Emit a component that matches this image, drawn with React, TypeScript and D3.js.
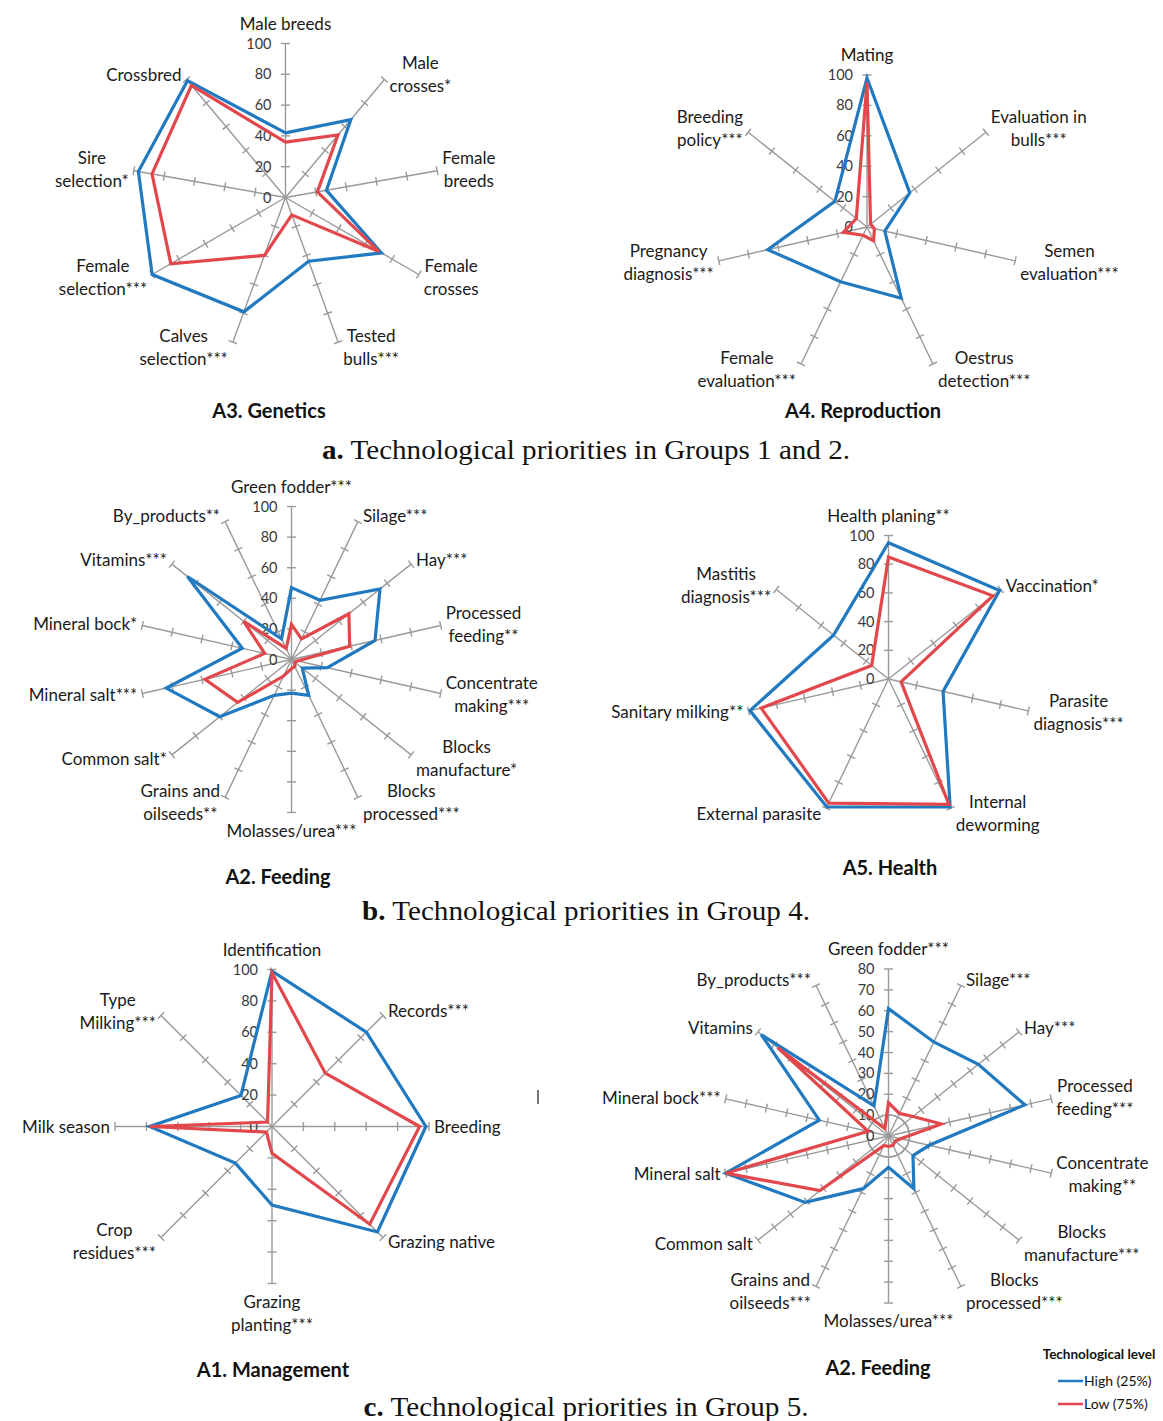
import React from "react";
import * as d3 from "d3";

// ---------- DATA ----------
const geneticsAxes = ["Male breeds", "Male\ncrosses*", "Female\nbreeds", "Female\ncrosses", "Tested\nbulls***", "Calves\nselection***", "Female\nselection***", "Sire\nselection*", "Crossbred"];
const geneticsHigh = [42, 66, 27, 72, 44, 79, 100, 97, 99];
const geneticsLow = [36, 53, 21, 70, 12, 40, 86, 88, 95];

const reproAxes = ["Mating", "Evaluation in\nbulls***", "Semen\nevaluation***", "Oestrus\ndetection***", "Female\nevaluation***", "Pregnancy\ndiagnosis***", "Breeding\npolicy***"];
const reproHigh = [98, 36, 12, 52, 40, 67, 27];
const reproLow = [95, 3, 5, 10, 6, 16, 9];

const feeding4Axes = ["Green fodder***", "Silage***", "Hay***", "Processed\nfeeding**", "Concentrate\nmaking***", "Blocks\nmanufacture*", "Blocks\nprocessed***", "Molasses/urea***", "Grains and\noilseeds**", "Common salt*", "Mineral salt***", "Mineral bock*", "Vitamins***", "By_products**"];
const feeding4High = [47, 43, 74, 56, 24, 9, 26, 22, 26, 60, 84, 33, 87, 15];
const feeding4Low = [23, 15, 48, 39, 4, 3, 5, 6, 12, 45, 58, 18, 40, 8];

const healthAxes = ["Health planing**", "Vaccination*", "Parasite\ndiagnosis***", "Internal\ndeworming", "External parasite", "Sanitary milking**", "Mastitis\ndiagnosis***"];
const healthHigh = [95, 99, 39, 99, 99, 99, 49];
const healthLow = [85, 93, 9, 97, 96, 91, 15];

const mgmtAxes = ["Identification", "Records***", "Breeding", "Grazing native", "Grazing\nplanting***", "Crop\nresidues***", "Milk season", "Type\nMilking***"];
const mgmtHigh = [99, 85, 98, 95, 50, 33, 78, 28];
const mgmtLow = [98, 48, 94, 88, 17, 5, 78, 4];

const feeding5Axes = ["Green fodder***", "Silage***", "Hay***", "Processed\nfeeding***", "Concentrate\nmaking**", "Blocks\nmanufacture***", "Blocks\nprocessed***", "Molasses/urea***", "Grains and\noilseeds***", "Common salt", "Mineral salt", "Mineral bock***", "Vitamins", "By_products***"];
const feeding5High = [61, 50, 55, 67, 20, 15, 28, 15, 28, 51, 80, 34, 78, 16];
const feeding5Low = [16, 12, 15, 26, 6, 4, 5, 5, 5, 42, 80, 10, 68, 4];

const ticks100 = [0, 20, 40, 60, 80, 100];
const ticks80 = [0, 10, 20, 30, 40, 50, 60, 70, 80];

const seriesNames = ["High (25%)", "Low (75%)"];
const legendTitle = "Technological level";

const captionA = ["a.", " Technological priorities in Groups 1 and 2."];
const captionB = ["b.", " Technological priorities in Group 4."];
const captionC = ["c.", " Technological priorities in Group 5."];

// ---------- STYLE / LAYOUT ----------
const FONT = "Lato, 'Open Sans', sans-serif";
const SERIF = "'Liberation Serif', 'DejaVu Serif', serif";
const BLUE = "#2179c0";
const RED = "#e2474c";
const AXIS = "#9a9a9a";
const LABEL_SIZE = 17;
const LINE_H = 23;

type Chart = {
  axes: string[];
  high: number[];
  low: number[];
  ticks: number[];
  title: string;
  cx: number;
  cy: number;
  r: number;
  tx: number;
  ty: number;
  ring?: number;
};

const charts: Chart[] = [
  { axes: geneticsAxes, high: geneticsHigh, low: geneticsLow, ticks: ticks100, title: "A3. Genetics", cx: 285.5, cy: 197.5, r: 154, tx: 269, ty: 418 },
  { axes: reproAxes, high: reproHigh, low: reproLow, ticks: ticks100, title: "A4. Reproduction", cx: 867, cy: 227, r: 152, tx: 863, ty: 418 },
  { axes: feeding4Axes, high: feeding4High, low: feeding4Low, ticks: ticks100, title: "A2. Feeding", cx: 291.5, cy: 659.5, r: 153, tx: 278, ty: 884 },
  { axes: healthAxes, high: healthHigh, low: healthLow, ticks: ticks100, title: "A5. Health", cx: 888.5, cy: 679, r: 143.5, tx: 890, ty: 875 },
  { axes: mgmtAxes, high: mgmtHigh, low: mgmtLow, ticks: ticks100, title: "A1. Management", cx: 272, cy: 1126.5, r: 157, tx: 273, ty: 1377 },
  { axes: feeding5Axes, high: feeding5High, low: feeding5Low, ticks: ticks80, title: "A2. Feeding", cx: 888.5, cy: 1136, r: 167, tx: 878, ty: 1375, ring: 10 },
];

let ctx: CanvasRenderingContext2D | null = null;
function textWidth(t: string, size: number): number {
  if (!ctx) {
    const c = document.createElement("canvas");
    ctx = c.getContext("2d");
  }
  if (!ctx) return t.length * size * 0.5;
  ctx.font = `${size}px Lato`;
  return ctx.measureText(t).width;
}

function Radar({ c }: { c: Chart }) {
  const n = c.axes.length;
  const max = c.ticks[c.ticks.length - 1];
  const rs = d3.scaleLinear().domain([0, max]).range([0, c.r]);
  const angle = d3.scaleLinear().domain([0, n]).range([0, 2 * Math.PI]);
  const pt = (i: number, v: number): [number, number] => [
    c.cx + rs(v) * Math.sin(angle(i)),
    c.cy - rs(v) * Math.cos(angle(i)),
  ];
  const line = d3.line<[number, number]>().curve(d3.curveLinearClosed);
  const tickHalf = 4.5;

  const axisEls: React.ReactNode[] = [];
  c.axes.forEach((lab, i) => {
    const a = angle(i);
    const [ex, ey] = pt(i, max);
    axisEls.push(<line key={`ax${i}`} x1={c.cx} y1={c.cy} x2={ex} y2={ey} stroke={AXIS} strokeWidth={1.4} />);
    const px = Math.cos(a), py = Math.sin(a); // perpendicular
    c.ticks.slice(1).forEach((t) => {
      const [tx, ty] = pt(i, t);
      axisEls.push(
        <line key={`tk${i}-${t}`} x1={tx - px * tickHalf} y1={ty - py * tickHalf} x2={tx + px * tickHalf} y2={ty + py * tickHalf} stroke={AXIS} strokeWidth={1.4} />
      );
    });
  });

  const labelEls = c.axes.map((lab, i) => {
    const lines = lab.split("\n");
    const a = angle(i);
    const [ex, ey] = pt(i, max);
    const deg = (a * 180) / Math.PI;
    let x: number;
    let y0: number;
    if (Math.abs(deg) < 0.01) {
      x = ex;
      y0 = ey - 14 - (lines.length - 1) * LINE_H;
    } else if (Math.abs(deg - 180) < 0.01) {
      x = ex;
      y0 = ey + 24;
    } else {
      const w = d3.max(lines, (l) => textWidth(l, LABEL_SIZE)) || 0;
      const right = deg < 180;
      x = right ? ex + 5 + w / 2 : ex - 5 - w / 2;
      const centerY = ey - 6 * Math.cos(a);
      y0 = centerY - ((lines.length - 1) * LINE_H) / 2 + 6;
    }
    return (
      <text key={`lb${i}`} x={x} y={y0} textAnchor="middle" fontFamily={FONT} fontSize={LABEL_SIZE} fill="#1a1a1a">
        {lines.map((l, k) => (
          <tspan key={k} x={x} y={y0 + k * LINE_H}>{l}</tspan>
        ))}
      </text>
    );
  });

  const tickLabels = c.ticks.map((t) => (
    <text key={`tl${t}`} x={c.cx - 14} y={c.cy - rs(t) + 5} textAnchor="end" fontFamily={FONT} fontSize={14.5} fill="#3a3a3a">{t}</text>
  ));

  const highPts = c.high.map((v, i) => pt(i, v));
  const lowPts = c.low.map((v, i) => pt(i, v));

  return (
    <g>
      {c.ring !== undefined && (
        <circle cx={c.cx} cy={c.cy} r={rs(c.ring)} fill="none" stroke={AXIS} strokeWidth={1.4} />
      )}
      {axisEls}
      {tickLabels}
      <path d={line(highPts) || ""} fill="none" stroke={BLUE} strokeWidth={3.2} strokeLinejoin="miter" />
      <path d={line(lowPts) || ""} fill="none" stroke={RED} strokeWidth={3.2} strokeLinejoin="miter" />
      {labelEls}
      <text x={c.tx} y={c.ty} textAnchor="middle" fontFamily={FONT} fontWeight="bold" fontSize={20} fill="#111">{c.title}</text>
    </g>
  );
}

function Caption({ parts, x, y, w }: { parts: string[]; x: number; y: number; w: number }) {
  return (
    <text x={x} y={y} textAnchor="middle" fontFamily={SERIF} fontSize={27} fill="#111" textLength={w} lengthAdjust="spacingAndGlyphs">
      <tspan fontWeight="bold">{parts[0]}</tspan>
      <tspan>{parts[1]}</tspan>
    </text>
  );
}

export default function App() {
  return (
    <svg width={1163} height={1421} viewBox="0 0 1163 1421" style={{ position: "absolute", left: 0, top: 0, background: "#fff" }}>
      <rect x={0} y={0} width={1163} height={1421} fill="#fff" />
      {charts.map((c, i) => (
        <Radar key={i} c={c} />
      ))}
      <Caption parts={captionA} x={586} y={459} w={528} />
      <Caption parts={captionB} x={586} y={920} w={448} />
      <Caption parts={captionC} x={586} y={1416} w={445} />
      <line x1={538} y1={1090} x2={538} y2={1104} stroke="#444" strokeWidth={1.5} />
      <g>
        <text x={1099} y={1359} textAnchor="middle" fontFamily={FONT} fontWeight="bold" fontSize={13.5} fill="#111">{legendTitle}</text>
        <line x1={1058} y1={1381} x2={1083} y2={1381} stroke={BLUE} strokeWidth={2.5} />
        <text x={1084} y={1386} fontFamily={FONT} fontSize={14} fill="#111">{seriesNames[0]}</text>
        <line x1={1058} y1={1404} x2={1083} y2={1404} stroke={RED} strokeWidth={2.5} />
        <text x={1084} y={1409} fontFamily={FONT} fontSize={14} fill="#111">{seriesNames[1]}</text>
      </g>
    </svg>
  );
}
